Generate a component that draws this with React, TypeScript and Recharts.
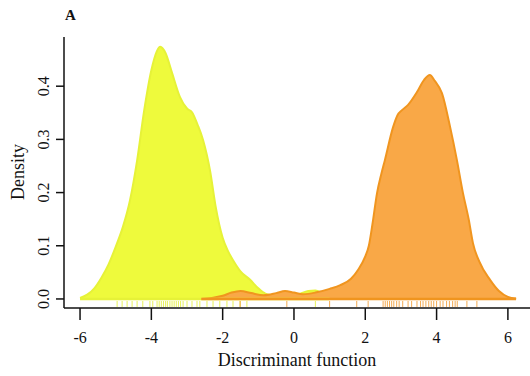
import React from "react";
import { ComposedChart, Area, Line, Scatter, XAxis, YAxis } from "recharts";

// kernel density, group 1 (yellow)
const yellowX = [-6.0, -5.8, -5.6, -5.4, -5.2, -5.0, -4.8, -4.6, -4.4, -4.2, -4.0, -3.85, -3.75, -3.6, -3.42, -3.2, -3.0, -2.86, -2.7, -2.55, -2.35, -2.2, -2.0, -1.85, -1.7, -1.5, -1.23, -1.0, -0.8, -0.5, -0.2, 0.1, 0.4, 0.6, 0.8, 1.0];
const yellowD = [0.002, 0.008, 0.02, 0.04, 0.065, 0.098, 0.135, 0.185, 0.26, 0.355, 0.43, 0.465, 0.474, 0.462, 0.425, 0.38, 0.358, 0.351, 0.327, 0.299, 0.24, 0.175, 0.115, 0.09, 0.072, 0.052, 0.036, 0.02, 0.01, 0.006, 0.005, 0.008, 0.015, 0.016, 0.01, 0.002];

// kernel density, group 2 (orange)
const orangeX = [-2.6, -2.3, -2.0, -1.75, -1.5, -1.2, -0.85, -0.5, -0.25, 0.0, 0.25, 0.6, 1.0, 1.3, 1.6, 1.8, 2.0, 2.1, 2.2, 2.33, 2.45, 2.55, 2.78, 2.9, 3.03, 3.2, 3.45, 3.65, 3.81, 3.95, 4.15, 4.38, 4.57, 4.74, 4.9, 5.02, 5.2, 5.5, 5.75, 6.0, 6.23];
const orangeD = [0.0, 0.002, 0.006, 0.012, 0.015, 0.011, 0.007, 0.011, 0.015, 0.012, 0.009, 0.012, 0.019, 0.026, 0.038, 0.055, 0.08, 0.1, 0.14, 0.199, 0.235, 0.261, 0.323, 0.345, 0.355, 0.365, 0.389, 0.412, 0.421, 0.41, 0.387, 0.323, 0.261, 0.199, 0.15, 0.105, 0.07, 0.036, 0.015, 0.004, 0.001];

// rug (individual scores)
const yellowRug = [-4.96, -4.82, -4.68, -4.54, -4.4, -4.24, -4.04, -3.96, -3.84, -3.78, -3.72, -3.66, -3.6, -3.55, -3.48, -3.42, -3.36, -3.3, -3.24, -3.18, -3.11, -3.0, -2.86, -2.72, -2.64, -2.44, -2.27, -2.08, -1.88, -1.71, -1.51, -1.32, 0.6];
const orangeRug = [-1.51, -0.2, 1.0, 1.76, 2.08, 2.5, 2.56, 2.62, 2.68, 2.74, 2.8, 2.88, 2.95, 3.05, 3.2, 3.3, 3.45, 3.55, 3.62, 3.7, 3.78, 3.85, 3.92, 4.0, 4.1, 4.18, 4.28, 4.36, 4.45, 4.52, 4.58, 4.85, 5.13];

const xTicks = [-6, -4, -2, 0, 2, 4, 6];
const yTicks = [0, 0.1, 0.2, 0.3, 0.4];

const yellowData = yellowX.map((x, i) => ({ x, d: yellowD[i] }));
const orangeData = orangeX.map((x, i) => ({ x, d: orangeD[i] }));
const yellowBase = [yellowX[0], yellowX[yellowX.length - 1]].map((x) => ({ x, d: 0 }));
const orangeBase = [orangeX[0], orangeX[orangeX.length - 1]].map((x) => ({ x, d: 0 }));
const yellowRugData = yellowRug.map((x) => ({ x, d: 0 }));
const orangeRugData = orangeRug.map((x) => ({ x, d: 0 }));

const font = "Liberation Serif, serif";

const YTick = (props: any) => {
  const { y, payload } = props;
  return (
    <text x={49} y={y} transform={`rotate(-90 49 ${y})`} textAnchor="middle" fontFamily={font} fontSize={16} style={{ fontFamily: font }} fill="#111">
      {payload.value.toFixed(1)}
    </text>
  );
};

const XTick = (props: any) => {
  const { x, payload } = props;
  return (
    <text x={x} y={343} textAnchor="middle" fontFamily={font} fontSize={16} style={{ fontFamily: font }} fill="#111">
      {payload.value}
    </text>
  );
};

const rugShape = (color: string) => (props: any) => {
  const { cx, cy } = props;
  return <line x1={cx} x2={cx} y1={cy + 2} y2={cy + 8} stroke={color} strokeWidth={1} />;
};

export default function App() {
  return (
    <div style={{ position: "fixed", left: 0, top: 0, width: 530, height: 376, background: "#fff", fontFamily: font }}>
      <ComposedChart width={530} height={376} margin={{ top: 37, right: 0, bottom: 0, left: 0 }}>
        <XAxis
          xAxisId="b"
          type="number"
          dataKey="x"
          domain={[-6.45, 6.62]}
          ticks={xTicks}
          allowDataOverflow
          height={68}
          tickSize={12}
          axisLine={{ stroke: "#111", strokeWidth: 1.5 }}
          tickLine={{ stroke: "#111", strokeWidth: 1.5 }}
          tick={<XTick />}
        />
        <XAxis
          xAxisId="t"
          orientation="top"
          type="number"
          dataKey="x"
          domain={[-6.45, 6.62]}
          height={0}
          tick={false}
          tickLine={false}
          axisLine={{ stroke: "#111", strokeWidth: 2 }}
        />
        <YAxis
          type="number"
          dataKey="d"
          domain={[-0.017, 0.4925]}
          ticks={yTicks}
          allowDataOverflow
          width={64}
          tickSize={8}
          axisLine={{ stroke: "#111", strokeWidth: 1.5 }}
          tickLine={{ stroke: "#111", strokeWidth: 1.5 }}
          tick={<YTick />}
        />
        <Area
          xAxisId="b"
          data={yellowData}
          dataKey="d"
          type="monotone"
          baseValue={0}
          fill="#eefa3c"
          fillOpacity={1}
          stroke="#e6f238"
          strokeWidth={2}
          isAnimationActive={false}
        />
        <Line xAxisId="b" data={yellowBase} dataKey="d" stroke="#e6f238" strokeWidth={2.5} dot={false} isAnimationActive={false} />
        <Area
          xAxisId="b"
          data={orangeData}
          dataKey="d"
          type="monotone"
          baseValue={0}
          fill="#f9a847"
          fillOpacity={1}
          stroke="#f0951f"
          strokeWidth={2}
          isAnimationActive={false}
        />
        <Line xAxisId="b" data={orangeBase} dataKey="d" stroke="#f0951f" strokeWidth={2.5} dot={false} isAnimationActive={false} />
        <Scatter xAxisId="b" data={yellowRugData} dataKey="d" shape={rugShape("rgba(228,240,60,0.85)")} isAnimationActive={false} />
        <Scatter xAxisId="b" data={orangeRugData} dataKey="d" shape={rugShape("rgba(240,150,40,0.8)")} isAnimationActive={false} />
      </ComposedChart>
      <svg width={530} height={376} style={{ position: "absolute", left: 0, top: 0, pointerEvents: "none" }}>
        <text x={65} y={20} fontFamily={font} style={{ fontSize: 15, fontWeight: "bold" }} fill="#111">A</text>
        <text x={297} y={366} textAnchor="middle" fontFamily={font} style={{ fontSize: 18 }} fill="#111">Discriminant function</text>
        <text x={24} y={172} transform="rotate(-90 24 172)" textAnchor="middle" fontFamily={font} style={{ fontSize: 18 }} fill="#111">Density</text>
      </svg>
    </div>
  );
}
